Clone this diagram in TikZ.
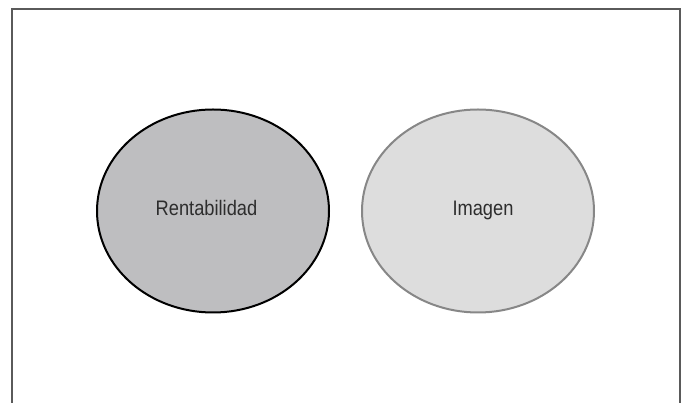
\documentclass[tikz,border=0pt]{standalone}
\usepackage{xcolor}
\usepackage{fontspec}
\usepackage{tikz}
\usetikzlibrary{shapes.geometric}
\newfontfamily\labelfont{Liberation Sans}[FakeStretch=0.87]
\definecolor{framegray}{RGB}{90,90,90}
\definecolor{darkfill}{RGB}{190,190,192}
\definecolor{lightfill}{RGB}{221,221,221}
\definecolor{lightedge}{RGB}{135,135,135}
\definecolor{textgray}{RGB}{45,45,45}
\tikzset{
  circlebox/.style={ellipse, minimum width=232pt, minimum height=203pt,
    line width=2pt},
  labeltext/.style={anchor=base, inner sep=0pt,
    font=\labelfont\fontsize{21}{25}\selectfont, text=textgray},
}

\begin{document}
\begin{tikzpicture}[x=1pt, y=-1pt]
   \useasboundingbox (0,0) rectangle (686,403);
   \draw[framegray, line width=2pt] (12,410) -- (12,9) -- (680,9) -- (680,410);

   \node[circlebox, draw=black, fill=darkfill] (rent) at (213,211) {};
   \node[circlebox, draw=lightedge, fill=lightfill] (imagen) at (478,211) {};

   \node[labeltext] (rentlabel) at ([xshift=-6.5pt, yshift=-4.5pt]rent.center) {Rentabilidad};
   \node[labeltext] (imagenlabel) at ([xshift=5pt, yshift=-4.5pt]imagen.center) {Imagen};

\end{tikzpicture}
\end{document}
